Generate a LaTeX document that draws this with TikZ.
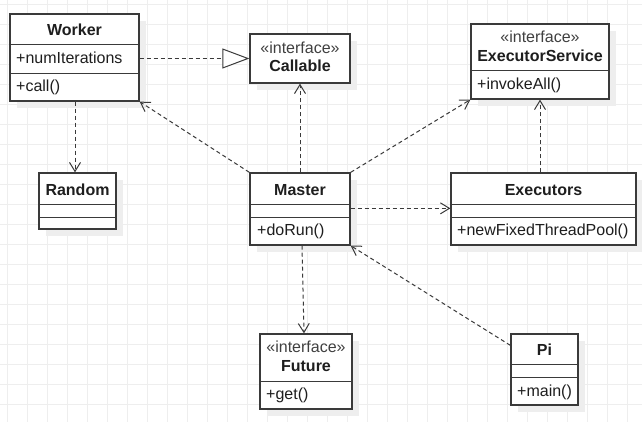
\documentclass[tikz,border=0pt]{standalone}
\usepackage{fontspec}
\setmainfont{Liberation Sans}
\usetikzlibrary{arrows.meta,shadows}
\definecolor{gridc}{HTML}{EEEEEE}
\definecolor{linec}{HTML}{3A3A3A}
\definecolor{txtc}{HTML}{1E1E1E}
\definecolor{shadc}{HTML}{EEEEEE}
\tikzset{
  cls/.style={draw=linec, line width=1.3pt, fill=white, rectangle, inner sep=0pt,
    drop shadow={shadow xshift=7pt, shadow yshift=-7pt, fill=shadc, opacity=1}},
  div/.style={draw=linec, line width=1.1pt},
  ttl/.style={font=\fontsize{16}{18}\selectfont\bfseries, text=txtc, inner sep=0pt},
  ster/.style={font=\fontsize{16}{18}\selectfont, text=black!75, inner sep=0pt},
  mem/.style={font=\fontsize{16}{18}\selectfont, text=txtc, inner sep=0pt, anchor=west},
  dep/.style={draw=linec, line width=1pt, dash pattern=on 4pt off 3pt,
    -{Straight Barb[length=9pt,width=11pt,line width=1pt]}},
  real/.style={draw=linec, line width=1pt, dash pattern=on 4pt off 3pt,
    -{Triangle[open,length=27pt,width=20pt,line width=1pt,fill=white]}}
}
\begin{document}
\begin{tikzpicture}[x=1pt,y=-1pt]
\useasboundingbox (0,0) rectangle (642,422);
\fill[white] (0,0) rectangle (642,422);
\foreach \gx in {7,27,...,640} \draw[gridc, line width=0.8pt] (\gx,0) -- (\gx,422);
\foreach \gy in {4,24,...,420} \draw[gridc, line width=0.8pt] (0,\gy) -- (642,\gy);

% Worker
\node[cls, minimum width=129pt, minimum height=87pt] (worker) at (74.5,57.5) {};
\draw[div] ([yshift=-31pt]worker.north west) -- ([yshift=-31pt]worker.north east);
\draw[div] ([yshift=-60pt]worker.north west) -- ([yshift=-60pt]worker.north east);
\node[ttl] (workerT) at (74.5,29.5) {Worker};
\node[mem] (workerA) at (16,58) {+numIterations};
\node[mem] (workerM) at (16,87) {+call()};

% Callable
\node[cls, minimum width=100pt, minimum height=49pt] (callable) at (300,58.5) {};
\node[ster] (callableS) at (300,47.5) {«interface»};
\node[ttl] (callableT) at (300,65.5) {Callable};

% ExecutorService
\node[cls, minimum width=138pt, minimum height=75pt] (es) at (540,61.5) {};
\draw[div] ([yshift=-47pt]es.north west) -- ([yshift=-47pt]es.north east);
\node[ster] (esS) at (540,37) {«interface»};
\node[ttl] (esT) at (540,56) {ExecutorService};
\node[mem] (esM) at (477,85) {+invokeAll()};

% Random
\node[cls, minimum width=77pt, minimum height=56pt] (random) at (77.5,201) {};
\draw[div] ([yshift=-32pt]random.north west) -- ([yshift=-32pt]random.north east);
\draw[div] ([yshift=-45pt]random.north west) -- ([yshift=-45pt]random.north east);
\node[ttl] (randomT) at (77.5,190) {Random};

% Master
\node[cls, minimum width=100pt, minimum height=72pt] (master) at (300,209) {};
\draw[div] ([yshift=-32pt]master.north west) -- ([yshift=-32pt]master.north east);
\draw[div] ([yshift=-45pt]master.north west) -- ([yshift=-45pt]master.north east);
\node[ttl] (masterT) at (300,190) {Master};
\node[mem] (masterM) at (257,231) {+doRun()};

% Executors
\node[cls, minimum width=185pt, minimum height=72pt] (execs) at (543.5,209) {};
\draw[div] ([yshift=-32pt]execs.north west) -- ([yshift=-32pt]execs.north east);
\draw[div] ([yshift=-45pt]execs.north west) -- ([yshift=-45pt]execs.north east);
\node[ttl] (execsT) at (543.5,190) {Executors};
\node[mem] (execsM) at (457,231) {+newFixedThreadPool()};

% Future
\node[cls, minimum width=92pt, minimum height=75pt] (future) at (306,371.5) {};
\draw[div] ([yshift=-48pt]future.north west) -- ([yshift=-48pt]future.north east);
\node[ster] (futureS) at (306,347) {«interface»};
\node[ttl] (futureT) at (306,366) {Future};
\node[mem] (futureM) at (266,395) {+get()};

% Pi
\node[cls, minimum width=67pt, minimum height=71pt] (pi) at (544.5,369.5) {};
\draw[div] ([yshift=-31pt]pi.north west) -- ([yshift=-31pt]pi.north east);
\draw[div] ([yshift=-44pt]pi.north west) -- ([yshift=-44pt]pi.north east);
\node[ttl] (piT) at (544.5,350) {Pi};
\node[mem] (piM) at (517,392) {+main()};

% connectors
\draw[real] (callable.west -| worker.east) -- (callable.west);
\draw[dep] ([xshift=-2.5pt]random.north |- worker.south) -- ([xshift=-2.5pt]random.north);
\draw[dep] (master.north west) -- (worker.south east);
\draw[dep] (master.north) -- (callable.south);
\draw[dep] (master.north east) -- (es.south west);
\draw[dep] (execs.north -| es.south) -- (es.south);
\draw[dep] ([yshift=-36pt]master.north east) -- ([yshift=-36pt]execs.north west);
\draw[dep] ([xshift=2pt]master.south) -- ([xshift=-2pt]future.north);
\draw[dep] ([yshift=-12pt]pi.north west) -- (master.south east);
\end{tikzpicture}
\end{document}
